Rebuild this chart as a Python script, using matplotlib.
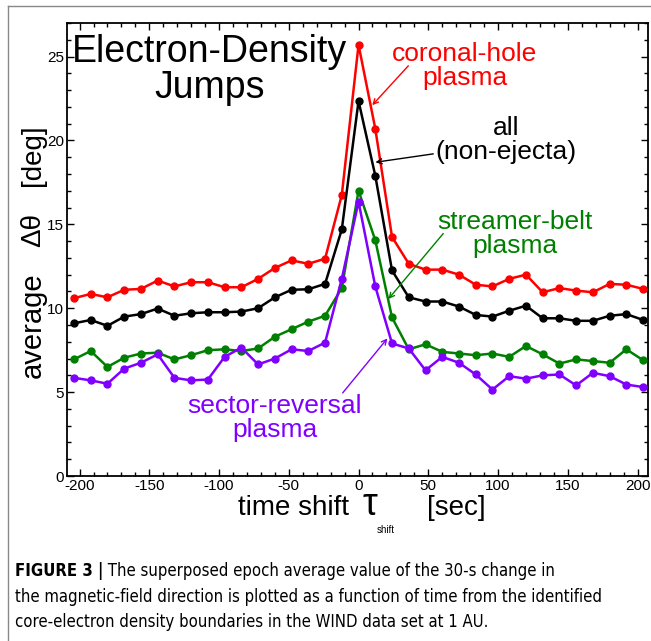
import numpy as np
import matplotlib
matplotlib.use("Agg")
import matplotlib.pyplot as plt
from matplotlib.ticker import MultipleLocator

plt.rcParams['font.family'] = ['Liberation Sans', 'DejaVu Sans']
plt.rcParams['axes.unicode_minus'] = False

# time shift of each superposed-epoch point [sec]
time_shift = [-204, -192, -180, -168, -156, -144, -132, -120, -108, -96, -84, -72,
              -60, -48, -36, -24, -12, 0, 12, 24, 36, 48, 60, 72, 84, 96, 108,
              120, 132, 144, 156, 168, 180, 192, 204]

coronal_hole = [10.6, 10.85, 10.65, 11.1, 11.15, 11.65, 11.3, 11.55, 11.55, 11.25, 11.25, 11.75,
                12.4, 12.85, 12.65, 12.95, 16.75, 25.7, 20.7, 14.25, 12.65, 12.3, 12.3, 12.0,
                11.4, 11.3, 11.75, 12.0, 10.95, 11.2, 11.05, 10.95, 11.45, 11.4, 11.15]

all_non_ejecta = [9.1, 9.3, 8.95, 9.5, 9.65, 9.98, 9.55, 9.7, 9.76, 9.76, 9.8, 10.0,
                  10.65, 11.1, 11.13, 11.45, 14.7, 22.35, 17.9, 12.25, 10.65, 10.4, 10.4, 10.1,
                  9.6, 9.5, 9.85, 10.15, 9.4, 9.4, 9.25, 9.25, 9.55, 9.65, 9.3]

streamer_belt = [6.95, 7.45, 6.5, 7.05, 7.3, 7.35, 6.95, 7.2, 7.5, 7.55, 7.45, 7.6,
                 8.3, 8.75, 9.2, 9.55, 11.2, 17.0, 14.05, 9.45, 7.55, 7.85, 7.4, 7.3,
                 7.2, 7.3, 7.1, 7.75, 7.25, 6.7, 6.95, 6.85, 6.75, 7.55, 6.9]

sector_reversal = [5.85, 5.7, 5.5, 6.4, 6.75, 7.25, 5.85, 5.7, 5.75, 7.1, 7.65, 6.65,
                   7.0, 7.55, 7.45, 7.95, 11.75, 16.35, 11.3, 7.9, 7.6, 6.3, 7.1, 6.75,
                   6.05, 5.15, 5.95, 5.8, 6.0, 6.05, 5.4, 6.15, 5.95, 5.45, 5.3]

RED = '#ff0000'
BLACK = '#000000'
GREEN = '#008000'
PURPLE = '#8000ff'

W, H = 651, 641
fig = plt.figure(figsize=(W / 100, H / 100), dpi=100)
ax = fig.add_axes([67 / W, 1 - 476 / H, 581 / W, 453 / H])

for series, color in [(coronal_hole, RED), (all_non_ejecta, BLACK),
                      (streamer_belt, GREEN), (sector_reversal, PURPLE)]:
    ax.plot(time_shift, series, color=color, lw=1.8, marker='o', ms=5,
            clip_on=False, zorder=3)

ax.set_xlim(-209, 207.5)
ax.set_ylim(0, 27)
ax.xaxis.set_major_locator(MultipleLocator(50))
ax.xaxis.set_minor_locator(MultipleLocator(10))
ax.yaxis.set_major_locator(MultipleLocator(5))
ax.yaxis.set_minor_locator(MultipleLocator(1))
ax.tick_params(which='both', direction='in', top=True, right=True, width=1.0,
               labelsize=11, pad=2)
ax.tick_params(which='major', length=5)
ax.tick_params(which='minor', length=3)
for sp in ax.spines.values():
    sp.set_linewidth(1.3)

# title and series labels
ax.text(-107, 24.2, 'Electron-Density\nJumps', ha='center', va='center',
        fontsize=27, linespacing=0.99)
ax.text(76, 24.45, 'coronal-hole\nplasma', color=RED, ha='center', va='center',
        fontsize=19, linespacing=1.0)
ax.text(106, 20.05, 'all\n(non-ejecta)', color=BLACK, ha='center', va='center',
        fontsize=19, linespacing=1.0)
ax.text(112, 14.4, 'streamer-belt\nplasma', color=GREEN, ha='center', va='center',
        fontsize=19, linespacing=1.0)
ax.text(-60, 3.45, 'sector-reversal\nplasma', color=PURPLE, ha='center', va='center',
        fontsize=19, linespacing=1.0)

arrows = [((35.7, 24.45), (9.8, 22.1), RED),
          ((53.6, 19.2), (12.1, 18.7), BLACK),
          ((60.7, 14.45), (21.4, 10.55), GREEN),
          ((-11.4, 4.95), (20.7, 8.2), PURPLE)]
for start, end, color in arrows:
    ax.annotate('', xy=end, xytext=start,
                arrowprops=dict(arrowstyle='->', color=color, lw=1.0,
                                mutation_scale=9, shrinkA=0, shrinkB=0))

# y label, built from pieces to keep the wide spacing
fig.text(33 / W, 1 - 155 / H, '[deg]', rotation=90, ha='center', va='center', fontsize=20)
fig.text(33 / W, 1 - 230 / H, '\u0394\u03b8', rotation=90, ha='center', va='center', fontsize=20)
fig.text(33 / W, 1 - 325 / H, 'average', rotation=90, ha='center', va='center', fontsize=21)

# x label
base = 1 - 515 / H
fig.text(294 / W, base, 'time shift', ha='center', va='baseline', fontsize=20)
fig.text(370 / W, base, '\u03c4', ha='center', va='baseline', fontsize=27)
fig.text(386 / W, 1 - 533 / H, 'shift', ha='center', va='baseline', fontsize=7)
fig.text(456 / W, base, '[sec]', ha='center', va='baseline', fontsize=20)

# caption
caption = [
    ('FIGURE 3 |', ' The superposed epoch average value of the 30-s change in'),
    ('', 'the magnetic-field direction is plotted as a function of time from the identified'),
    ('', 'core-electron density boundaries in the WIND data set at 1 AU.'),
]
cap_font = dict(family=['DejaVu Sans'], stretch='condensed', fontsize=12)
y0 = 1 - 571 / H
for i, (bold, rest) in enumerate(caption):
    y = y0 - i * 25.5 / H
    if bold:
        t = fig.text(15 / W, y, bold, fontweight='bold', ha='left', va='center', **cap_font)
        fig.canvas.draw()
        bb = t.get_window_extent()
        fig.text(bb.x1 / W, y, rest, ha='left', va='center', **cap_font)
    else:
        fig.text(15 / W, y, rest, ha='left', va='center', **cap_font)

# thin gray frame around the figure panel
fig.add_artist(plt.Line2D([8 / W, 8 / W], [0, 1 - 6 / H],
                          transform=fig.transFigure, color='#888888', lw=1.0))
fig.add_artist(plt.Line2D([8 / W, 1], [1 - 6 / H, 1 - 6 / H],
                          transform=fig.transFigure, color='#888888', lw=1.0))

fig.savefig('out.png', dpi=100)
